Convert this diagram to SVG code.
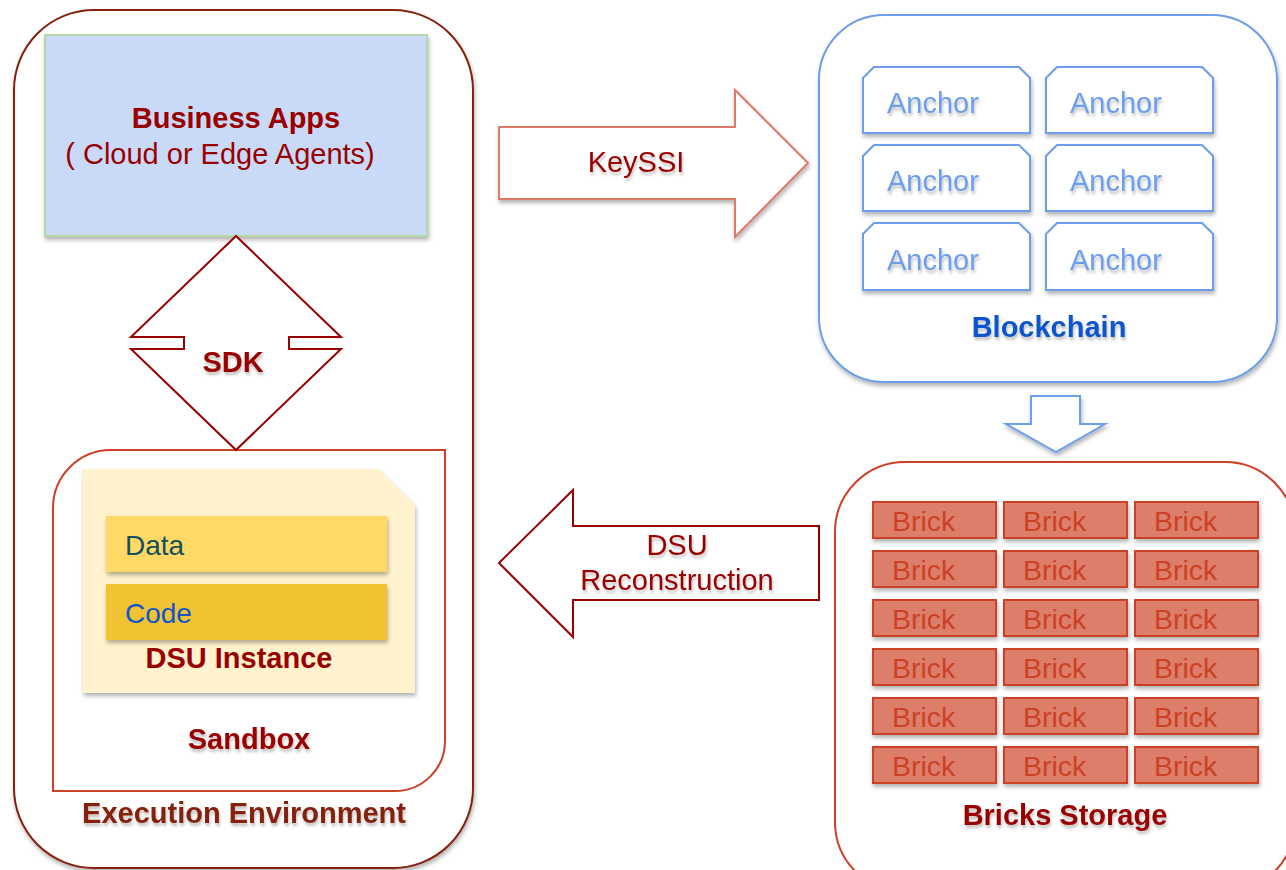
<svg xmlns="http://www.w3.org/2000/svg" width="1286" height="870" viewBox="0 0 1286 870">
<defs>
<filter id="sh" x="-10%" y="-10%" width="130%" height="140%">
<feDropShadow dx="1" dy="3" stdDeviation="2" flood-color="#000" flood-opacity="0.3"/>
</filter>
<filter id="tsh" x="-10%" y="-20%" width="130%" height="160%">
<feDropShadow dx="1" dy="3" stdDeviation="1.5" flood-color="#000" flood-opacity="0.25"/>
</filter>
</defs>
<style>
text{font-family:"Liberation Sans",Arial,sans-serif}
.title{font-weight:bold;font-size:29px;text-anchor:middle}
.red{fill:#990000}
.lbl{font-size:29px;text-anchor:middle}
.anchor{fill:#fff;stroke:#6d9eeb;stroke-width:2}
.anchorT{fill:#6d9eeb;font-size:29px}
.brick{fill:#dd7e6b;stroke:#cc4125;stroke-width:2}
.brickT{fill:#cc4125;font-size:28.5px}
</style>
<rect width="1286" height="870" fill="#fff"/>

<g id="execution-environment">
<rect x="14" y="10" width="459" height="858" rx="80" ry="80" fill="#fff" stroke="#85200c" stroke-width="2" filter="url(#sh)"/>
<text class="title" x="244" y="823" fill="#85200c" filter="url(#tsh)">Execution Environment</text>
</g>

<g id="business-apps">
<rect x="45" y="35" width="382" height="201" fill="#c9daf8" stroke="#b6d7a8" stroke-width="2" filter="url(#sh)"/>
<text class="title red" x="236" y="128">Business Apps</text>
<text class="red lbl" x="220" y="164">( Cloud or Edge Agents)</text>
</g>

<g id="sandbox">
<path d="M53,791 L53,508 A58,58 0 0 1 111,450 L445,450 L445,741 A50,50 0 0 1 395,791 Z" fill="#fff" stroke="#cc4125" stroke-width="2"/>
<text class="title red" x="249" y="749" filter="url(#tsh)">Sandbox</text>
</g>

<g id="dsu-instance">
<path d="M83,469 L378,469 L415,505 L415,693 L83,693 Z" fill="#fff2cc" filter="url(#sh)"/>
<rect x="106" y="516" width="281" height="56" fill="#ffd966" filter="url(#sh)"/>
<text x="125" y="555" font-size="28" fill="#134f5c">Data</text>
<rect x="106" y="584" width="281" height="56" fill="#f1c232" filter="url(#sh)"/>
<text x="125" y="623" font-size="28" fill="#1155cc">Code</text>
<text class="title red" x="239" y="668" font-size="28">DSU Instance</text>
</g>

<g id="blockchain">
<rect x="819" y="15" width="458" height="367" rx="65" ry="65" fill="#fff" stroke="#6d9eeb" stroke-width="2" filter="url(#sh)"/>
<g filter="url(#sh)">
<path class="anchor" d="M863,133 L863,78 L874,67 L1019,67 L1030,78 L1030,133 Z"/>
<path class="anchor" d="M1046,133 L1046,78 L1057,67 L1202,67 L1213,78 L1213,133 Z"/>
<path class="anchor" d="M863,211 L863,156 L874,145 L1019,145 L1030,156 L1030,211 Z"/>
<path class="anchor" d="M1046,211 L1046,156 L1057,145 L1202,145 L1213,156 L1213,211 Z"/>
<path class="anchor" d="M863,290 L863,234 L874,223 L1019,223 L1030,234 L1030,290 Z"/>
<path class="anchor" d="M1046,290 L1046,234 L1057,223 L1202,223 L1213,234 L1213,290 Z"/>
</g>
<g filter="url(#tsh)">
<text class="anchorT" x="887" y="113">Anchor</text>
<text class="anchorT" x="1070" y="113">Anchor</text>
<text class="anchorT" x="887" y="191">Anchor</text>
<text class="anchorT" x="1070" y="191">Anchor</text>
<text class="anchorT" x="887" y="270">Anchor</text>
<text class="anchorT" x="1070" y="270">Anchor</text>
</g>
<text class="title" x="1049" y="337" fill="#1155cc" filter="url(#tsh)">Blockchain</text>
</g>

<g id="bricks-storage">
<rect x="835" y="462" width="460" height="430" rx="70" ry="70" fill="#fff" stroke="#cc4125" stroke-width="2"/>
<g filter="url(#sh)">
<rect class="brick" x="873" y="502" width="123" height="36"/><rect class="brick" x="1004" y="502" width="123" height="36"/><rect class="brick" x="1135" y="502" width="123" height="36"/>
<rect class="brick" x="873" y="551" width="123" height="36"/><rect class="brick" x="1004" y="551" width="123" height="36"/><rect class="brick" x="1135" y="551" width="123" height="36"/>
<rect class="brick" x="873" y="600" width="123" height="36"/><rect class="brick" x="1004" y="600" width="123" height="36"/><rect class="brick" x="1135" y="600" width="123" height="36"/>
<rect class="brick" x="873" y="649" width="123" height="36"/><rect class="brick" x="1004" y="649" width="123" height="36"/><rect class="brick" x="1135" y="649" width="123" height="36"/>
<rect class="brick" x="873" y="698" width="123" height="36"/><rect class="brick" x="1004" y="698" width="123" height="36"/><rect class="brick" x="1135" y="698" width="123" height="36"/>
<rect class="brick" x="873" y="747" width="123" height="36"/><rect class="brick" x="1004" y="747" width="123" height="36"/><rect class="brick" x="1135" y="747" width="123" height="36"/>
</g>
<text class="brickT" x="892" y="531">Brick</text><text class="brickT" x="1023" y="531">Brick</text><text class="brickT" x="1154" y="531">Brick</text>
<text class="brickT" x="892" y="580">Brick</text><text class="brickT" x="1023" y="580">Brick</text><text class="brickT" x="1154" y="580">Brick</text>
<text class="brickT" x="892" y="629">Brick</text><text class="brickT" x="1023" y="629">Brick</text><text class="brickT" x="1154" y="629">Brick</text>
<text class="brickT" x="892" y="678">Brick</text><text class="brickT" x="1023" y="678">Brick</text><text class="brickT" x="1154" y="678">Brick</text>
<text class="brickT" x="892" y="727">Brick</text><text class="brickT" x="1023" y="727">Brick</text><text class="brickT" x="1154" y="727">Brick</text>
<text class="brickT" x="892" y="776">Brick</text><text class="brickT" x="1023" y="776">Brick</text><text class="brickT" x="1154" y="776">Brick</text>
<text class="title red" x="1065" y="825" filter="url(#tsh)">Bricks Storage</text>
</g>

<g id="connectors">
<g id="sdk-arrow">
<path d="M236,236 L341,337 L289,337 L289,349 L341,349 L236,450 L131,349 L184,349 L184,337 L131,337 Z" fill="#fff" stroke="#990000" stroke-width="2"/>
<text class="title red" x="233" y="372" filter="url(#tsh)">SDK</text>
</g>
<g id="keyssi-arrow">
<path d="M499,127 L735,127 L735,90 L808,163 L735,237 L735,199 L499,199 Z" fill="#fff" stroke="#e07a68" stroke-width="2" filter="url(#sh)"/>
<text class="red lbl" x="636" y="172" filter="url(#tsh)">KeySSI</text>
</g>
<g id="blockchain-to-bricks">
<path d="M1031,396 L1080,396 L1080,424 L1105,424 L1056,452 L1006,424 L1031,424 Z" fill="#fff" stroke="#6d9eeb" stroke-width="2" filter="url(#sh)"/>
</g>
<g id="dsu-reconstruction-arrow">
<path d="M819,526 L573,526 L573,490 L499,563 L573,637 L573,600 L819,600 Z" fill="#fff" stroke="#990000" stroke-width="2"/>
<text class="red lbl" x="677" y="555" filter="url(#tsh)">DSU</text>
<text class="red lbl" x="677" y="590" filter="url(#tsh)">Reconstruction</text>
</g>
</g>
</svg>
